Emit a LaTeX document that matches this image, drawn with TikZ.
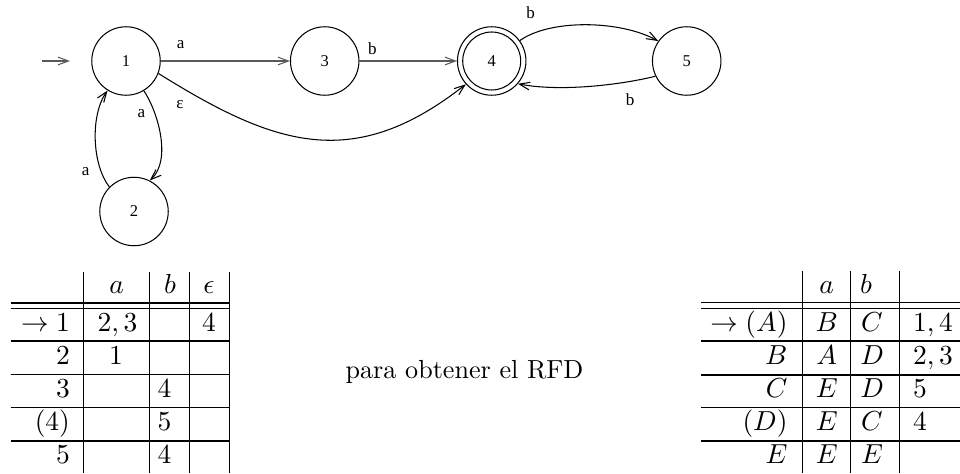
\documentclass[tikz,border=0pt]{standalone}
\usepackage{fontspec}
\newfontfamily\tfont{Liberation Serif}
\usetikzlibrary{arrows.meta}
\begin{document}
\begin{tikzpicture}[x=0.3636pt,y=-0.3636pt,
  st/.style={circle,draw,line width=0.38pt,minimum size=24.9pt,inner sep=0pt,font=\tfont\fontsize{6}{7}\selectfont},
  lab/.style={inner sep=0pt,font=\tfont\fontsize{6.2}{7}\selectfont},
  arr/.style={line width=0.38pt,-{Straight Barb[length=3.8pt,width=2.8pt]}},
  garr/.style={arr,draw=black!65},
  rule/.style={line width=0.4pt},
  cc/.style={inner sep=0pt,anchor=base},
  cr/.style={inner sep=0pt,anchor=base east},
  cl/.style={inner sep=0pt,anchor=base west}]
\useasboundingbox (0,0) rectangle (960,473);

% automaton
\node[st] (n1) at (126,61) {1};
\node[st] (n3) at (324.7,61) {3};
\node[st] (n4) at (491.7,61) {4};
\node[st] (n5) at (686.7,61) {5};
\node[st] (n2) at (134,211.5) {2};
\draw[line width=0.38pt] (n4.center) circle[radius=29];

\coordinate (s0) at (42,61);
\coordinate (s1) at (70,61);
\draw[garr] (s0) -- (s1);

\draw[garr] (n1) -- (n3) node[lab,text=black] at (180.7,45) {a};
\draw[garr] (n3) -- (n4) node[lab,text=black] at (372.3,48.3) {b};
\draw[arr] (n1.-21) .. controls (276,147) and (354,172) .. (n4.222) node[lab] at (180,105) {ε};
\draw[arr] (n1.-59) .. controls (158,112) and (172,160) .. (n2.63) node[lab] at (141.3,113.3) {a};
\draw[arr] (n2.135) .. controls (92,165) and (90,115) .. (n1.238) node[lab] at (85.7,171.7) {a};
\draw[arr] (n4.36.6) .. controls (550,19) and (620,20) .. (n5.145) node[lab] at (530.7,12.7) {b};
\draw[arr] (n5.206) .. controls (620,85) and (560,92) .. (n4.-41.5) node[lab] at (630,100) {b};

% left table
\foreach \x in {83.5,149.7,189.3,229.3} \draw[rule] (\x,271.5) -- (\x,473);
\foreach \y in {303,308.3,341,374.5,407.5,441} \draw[rule] (10.5,\y) -- (229.3,\y);
\node[cc] (la) at (116.6,293) {$a$};
\node[cc] (lb) at (170,293) {$b$};
\node[cc] (le) at (209,293) {$\epsilon$};
\node[cr] (l1) at (70.5,331) {$\rightarrow 1$};
\node[cc] (l1a) at (117.5,331) {$2,3$};
\node[cc] (l1e) at (209,331) {$4$};
\node[cr] (l2) at (70.5,364) {$2$};
\node[cc] (l2a) at (116,364) {$1$};
\node[cr] (l3) at (70.5,397) {$3$};
\node[cc] (l3b) at (164.5,397) {$4$};
\node[cr] (l4) at (70.5,430) {$(4)$};
\node[cc] (l4b) at (164.5,430) {$5$};
\node[cr] (l5) at (70.5,463) {$5$};
\node[cc] (l5b) at (164.5,463) {$4$};

% middle text
\node[cc,font=\fontsize{9.5}{11}\selectfont] (txt) at (464.5,378.5) {para obtener el RFD};

% right table
\foreach \x in {802.7,850.7,899.3} \draw[rule] (\x,271) -- (\x,473);
\foreach \y in {302.7,308.3,341,375,407.7,441} \draw[rule] (701,\y) -- (960,\y);
\node[cc] (ra) at (826.7,293) {$a$};
\node[cc] (rb) at (866,293) {$b$};
\node[cr] (r1) at (788,331) {$\rightarrow (A)$};
\node[cc] (r1a) at (826.7,331) {$B$};
\node[cc] (r1b) at (872,331) {$C$};
\node[cl] (r1c) at (912.5,331) {$1,4$};
\node[cr] (r2) at (788,364) {$B$};
\node[cc] (r2a) at (826.7,364) {$A$};
\node[cc] (r2b) at (872,364) {$D$};
\node[cl] (r2c) at (912.5,364) {$2,3$};
\node[cr] (r3) at (788,397) {$C$};
\node[cc] (r3a) at (826.7,397) {$E$};
\node[cc] (r3b) at (872,397) {$D$};
\node[cl] (r3c) at (912.5,397) {$5$};
\node[cr] (r4) at (788,430) {$(D)$};
\node[cc] (r4a) at (826.7,430) {$E$};
\node[cc] (r4b) at (872,430) {$C$};
\node[cl] (r4c) at (912.5,430) {$4$};
\node[cr] (r5) at (788,463) {$E$};
\node[cc] (r5a) at (826.7,463) {$E$};
\node[cc] (r5b) at (872,463) {$E$};
\end{tikzpicture}
\end{document}
